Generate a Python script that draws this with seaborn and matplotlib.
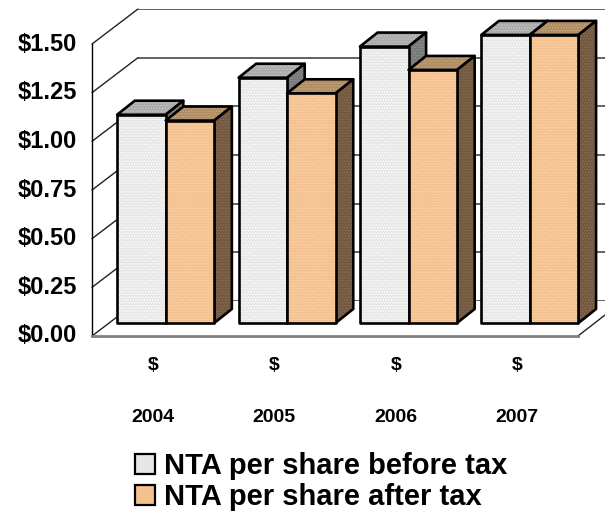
import matplotlib
matplotlib.use("Agg")
import matplotlib.pyplot as plt
import pandas as pd
import seaborn as sns
from matplotlib.lines import Line2D
from matplotlib.patches import Polygon, Rectangle
from matplotlib.ticker import FuncFormatter
from matplotlib.transforms import ScaledTranslation

years = ["2004", "2005", "2006", "2007"]
series_names = ["NTA per share before tax", "NTA per share after tax"]
before_tax = [1.07, 1.26, 1.42, 1.48]
after_tax = [1.04, 1.18, 1.30, 1.48]
y_ticks = [0, 0.25, 0.5, 0.75, 1.0, 1.25, 1.5]

front_colors = ["#e6e6e6", "#f4c08e"]
top_colors = ["#a9a9a9", "#b08c62"]
side_colors = ["#777777", "#72583f"]
front_dots = ["#ffffff", "#fbd6b0"]
top_dots = ["#c8c8c8", "#c8a884"]
side_dots = ["#939393", "#8a6f55"]

W, H = 605, 511
sns.set_style("white")
plt.rcParams.update({
    "font.family": ["Liberation Sans", "DejaVu Sans"],
    "font.weight": "bold",
    "hatch.linewidth": 0.7,
    "text.color": "black",
    "xtick.color": "black",
    "ytick.color": "black",
    "axes.labelcolor": "black",
})

fig = plt.figure(figsize=(W / 100, H / 100), dpi=100, facecolor="white")


def box(left, right, top, bottom):
    return [left / W, 1 - bottom / H, (right - left) / W, (bottom - top) / H]


# Back wall: gridlines only, running off the right edge of the figure
wall = fig.add_axes(box(138, 640, 9, 301), facecolor="none", zorder=0)
wall.set_ylim(0, 1.5)
wall.set_xlim(0, 1)
wall.set_yticks(y_ticks)
wall.set_xticks([])
wall.tick_params(left=False, labelleft=False)
wall.grid(axis="y", color="#555555", lw=1.3)
sns.despine(ax=wall, left=True, bottom=True, right=True, top=True)

# Front frame: value axis, category labels and floor edge
front = fig.add_axes(box(92, 578, 44, 336), facecolor="none", zorder=1)
front.set_xlim(-0.5, 3.5)
front.set_ylim(0, 1.5)
front.set_yticks(y_ticks)
front.yaxis.set_major_formatter(FuncFormatter(lambda v, _: f"${v:.2f}"))
front.set_xticks(range(len(years)))
front.set_xticklabels([f"$\n\n{y}" for y in years], fontsize=14, fontweight="bold", linespacing=1.7)
front.tick_params(axis="x", length=0, pad=15)
front.tick_params(axis="y", length=7, width=1, color="#333333", labelsize=17, pad=4)
raise_labels = ScaledTranslation(0, 2.5 / 100, fig.dpi_scale_trans)
for lab in front.get_yticklabels():
    lab.set_fontweight("bold")
    lab.set_transform(lab.get_transform() + raise_labels)
sns.despine(ax=front, top=True, right=True)
front.spines["left"].set_linewidth(1)
front.spines["left"].set_color("black")
front.spines["bottom"].set_color("#808080")
front.spines["bottom"].set_linewidth(2)

# Receding edges joining the front frame to the wall
to_fig = lambda x, y: (x / W, 1 - y / H)
for tick in y_ticks:
    y_front = front.transData.transform((0, tick))[1]
    y_back = wall.transData.transform((0, tick))[1]
    fig.add_artist(Line2D([92 / W, 138 / W], [y_front / fig.bbox.height, y_back / fig.bbox.height],
                          color="#222222", lw=1, zorder=0.5))
fig.add_artist(Line2D(*zip(to_fig(578, 336), to_fig(605, 315)), color="#222222", lw=1, zorder=0.5))

# Bars stand on a plane set slightly back from the front frame
ax = fig.add_axes(box(105, 590.6, 31, 323), facecolor="none", zorder=2)
data = pd.DataFrame({
    "year": years * 2,
    "series": [series_names[0]] * 4 + [series_names[1]] * 4,
    "value": before_tax + after_tax,
})
sns.barplot(data=data, x="year", y="value", hue="series", palette=front_colors, width=0.8,
            gap=0, saturation=1, linewidth=0, ax=ax, legend=False)
ax.set_xlim(-0.5, 3.5)
ax.set_ylim(0, 1.5)
ax.axis("off")


def dotted_face(points, fill, dots, z):
    """Fill a face with a fine stipple, then stroke its outline on top."""
    ax.add_patch(Polygon(points, closed=True, facecolor=fill, edgecolor=dots, lw=0,
                         hatch="......", zorder=z, clip_on=False))
    ax.add_patch(Polygon(points, closed=True, fill=False, edgecolor="black", lw=1.9,
                         zorder=z + 0.01, clip_on=False, joinstyle="round"))


# Extrude each bar: depth is 17.6 px across and 14 px up
dx = 17.6 / (590.6 - 105) * 4
dy = 14 / (323 - 31) * 1.5
bars = list(ax.patches)[:8]
for group in range(4):
    for s in range(2):
        bar = bars[s * 4 + group]
        x0, x1, h = bar.get_x(), bar.get_x() + bar.get_width(), bar.get_height()
        z = 3 + group + 0.1 * s
        bar.set_visible(False)
        dotted_face([(x0, h), (x1, h), (x1 + dx, h + dy), (x0 + dx, h + dy)],
                    top_colors[s], top_dots[s], z)
        dotted_face([(x1, 0), (x1, h), (x1 + dx, h + dy), (x1 + dx, dy)],
                    side_colors[s], side_dots[s], z + 0.02)
        dotted_face([(x0, 0), (x1, 0), (x1, h), (x0, h)],
                    front_colors[s], front_dots[s], z + 0.04)

# Legend centred under the plot
handles = [Rectangle((0, 0), 1, 1, facecolor=c, edgecolor="black", lw=1.6)
           for c in front_colors]
fig.legend(handles, series_names, loc="upper left", bbox_to_anchor=(135 / W, 1 - 452 / H),
           frameon=False, prop={"weight": "bold", "size": 21},
           handlelength=0.68, handleheight=0.68, handletextpad=0.3,
           labelspacing=0.1, borderpad=0, borderaxespad=0)

fig.savefig("out.png", dpi=100)
